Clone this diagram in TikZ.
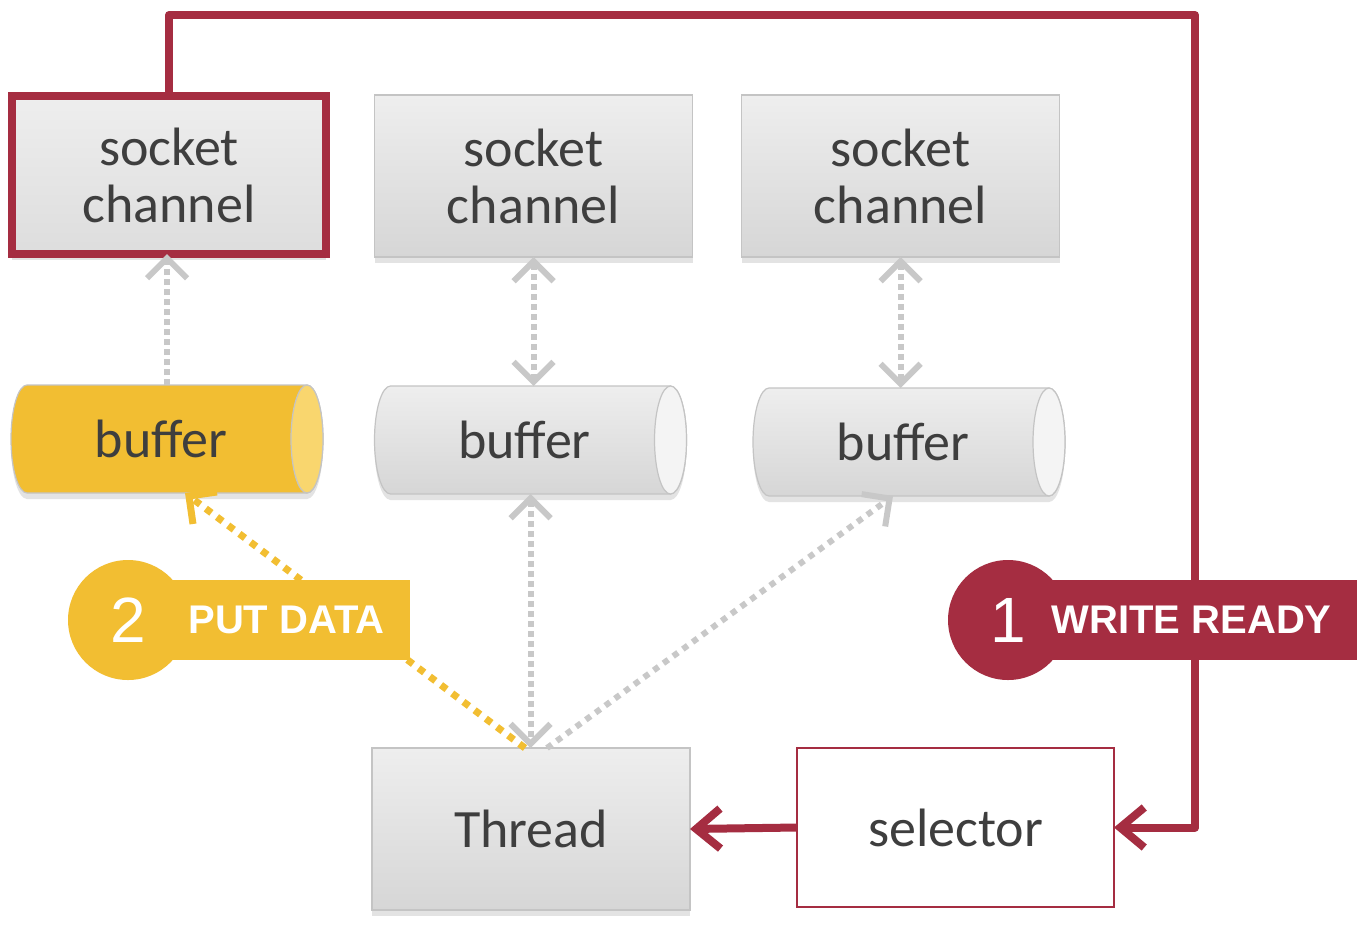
\documentclass[tikz,border=0pt]{standalone}
\usepackage{fontspec}
\setmainfont{Carlito}
\newfontfamily\labfont{Liberation Sans}
\usetikzlibrary{arrows.meta,shadows}
\definecolor{redc}{RGB}{165,45,65}
\definecolor{yel}{RGB}{242,190,50}
\definecolor{yelend}{RGB}{249,214,110}
\definecolor{txt}{RGB}{62,62,62}
\definecolor{bxtop}{RGB}{238,238,238}
\definecolor{bxbot}{RGB}{214,214,214}
\definecolor{bord}{RGB}{196,196,196}
\definecolor{gline}{RGB}{200,200,200}
\definecolor{bufend}{RGB}{244,244,244}
\pgfdeclarelayer{background}
\pgfsetlayers{background,main}
\newcommand\cylbody[3]{%
  \path[#2] ([xshift=8pt]#1.north west) -- ([xshift=-8pt]#1.north east)
    arc[start angle=90,end angle=-90,x radius=8pt,y radius=27pt]
    -- ([xshift=8pt]#1.south west)
    arc[start angle=270,end angle=90,x radius=8pt,y radius=27pt] -- cycle;
  \path[#3] ([xshift=-8pt]#1.east) ellipse[x radius=8pt,y radius=27pt];}
\begin{document}
\begin{tikzpicture}[x=0.5pt,y=-0.5pt,
  gtip/.tip={Straight Barb[length=10pt,width=20pt]},
  rtip/.tip={Straight Barb[length=12pt,width=20pt]},
  mainfont/.style={text=txt,font=\fontsize{27}{28.5}\selectfont},
  softshadow/.style={drop shadow={shadow xshift=0pt,shadow yshift=-3pt,opacity=0.22}},
  box/.style={rectangle,draw=bord,line width=0.6pt,top color=bxtop,bottom color=bxbot,
    minimum width=159pt,minimum height=81pt,inner sep=0pt,outer sep=0pt,align=center,
    mainfont,softshadow},
  redbox/.style={rectangle,draw=redc,line width=4pt,top color=bxtop,bottom color=bxbot!70!bxtop,
    minimum width=157pt,minimum height=79pt,inner sep=0pt,outer sep=0pt,align=center,
    mainfont,softshadow},
  selbox/.style={rectangle,draw=redc,line width=1.2pt,fill=white,
    minimum width=158.5pt,minimum height=79.5pt,inner sep=0pt,outer sep=0pt,mainfont},
  bufn/.style={rectangle,minimum width=156pt,minimum height=54pt,inner sep=0pt,outer sep=0pt,mainfont},
  graybody/.style={draw=bord,line width=0.6pt,top color=bxtop,bottom color=bxbot,softshadow},
  grayend/.style={draw=bord,line width=0.6pt,fill=bufend},
  yelbody/.style={draw=bord,line width=0.6pt,fill=yel,softshadow},
  yelendst/.style={draw=bord,line width=0.6pt,fill=yelend},
  gdash/.style={draw=gline,line width=3pt,dash pattern=on 3pt off 2pt},
  gdot/.style={draw=gline,line width=3pt,dash pattern=on 3pt off 3pt},
  ydot/.style={draw=yel,line width=3.5pt,dash pattern=on 3.5pt off 3.5pt},
  redline/.style={draw=redc,line width=4pt,line join=round},
  numlab/.style={circle,minimum size=60pt,inner sep=0pt,text=white,font=\labfont\fontsize{32}{34}\selectfont},
  boxlab/.style={rectangle,anchor=east,inner xsep=12.5pt,minimum height=40pt,inner ysep=0pt,text=white,
    font=\labfont\bfseries\fontsize{20}{21}\selectfont}
]
\useasboundingbox (0,0) rectangle (1368,926);
\begin{pgfonlayer}{background}
  \fill[white] (0,0) rectangle (1368,926);
\end{pgfonlayer}

% boxes
\node[redbox] (s1) at (169,175) {socket\\channel};
\node[box] (s2) at (533.5,176) {socket\\channel};
\node[box] (s3) at (900.5,176) {socket\\channel};
\node[box] (thread) at (531,829) {Thread};
\node[selbox] (sel) at (955.5,827.5) {selector};

% buffers
\node[bufn] (b1) at (167,439) {\hspace*{-6pt}buffer};
\node[bufn] (b2) at (530.5,440) {\hspace*{-6pt}buffer};
\node[bufn] (b3) at (909,442) {\hspace*{-6pt}buffer};
\begin{pgfonlayer}{background}
  \cylbody{b1}{yelbody}{yelendst}
  \cylbody{b2}{graybody}{grayend}
  \cylbody{b3}{graybody}{grayend}
\end{pgfonlayer}

% gray connectors
\draw[gdash,-{gtip}] (b1.north) -- (b1.north |- s1.south);
\draw[gdash,{gtip}-{gtip}] (s2.south) -- (s2.south |- b2.north);
\draw[gdash,{gtip}-{gtip}] (s3.south) -- (s3.south |- b3.north);
\draw[gdash,{gtip}-{gtip}] (b2.south) -- (b2.south |- thread.north);
\draw[gdot,-{gtip}] ([xshift=8pt]thread.north) -- ([xshift=-8pt]b3.south);
\draw[ydot,-{gtip}] ([xshift=-3pt]thread.north) -- ([xshift=9pt]b1.south);

% red connectors
\coordinate (c1) at (1195,15);
\draw[redline,-{rtip}] (s1.north) |- (c1) |- (sel.east);
\draw[redline,-{rtip}] (sel.west) -- (thread.east);

% labels
\node[numlab,fill=yel] (n2) at (128,620) {2};
\node[boxlab,fill=yel] (l2) at (410,620) {PUT DATA};
\node[numlab,fill=redc] (n1) at (1008,620) {1};
\node[boxlab,fill=redc] (l1) at (1357,620) {WRITE READY};
\end{tikzpicture}
\end{document}
